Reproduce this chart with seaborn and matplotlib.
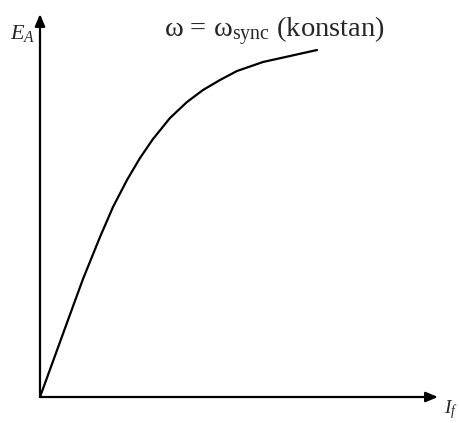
import matplotlib
matplotlib.use("Agg")
import matplotlib.pyplot as plt
import seaborn as sns
import pandas as pd

# Magnetization (open-circuit) characteristic: field current vs. induced EMF
field_current = [0, 28, 43, 60, 73, 87, 100, 113, 130, 147, 163, 180, 197, 223, 250, 277]
induced_emf = [0, 77, 118, 160, 190, 217, 239, 258, 279, 295, 307, 317, 326, 335, 341, 347]

x_label = "$I_f$"
y_label = "$E_A$"
curve_note = r"ω = ω$_{\rm sync}$ (konstan)"

sns.set_theme(style="white")
plt.rcParams["font.family"] = ["Liberation Serif", "DejaVu Serif"]
plt.rcParams["mathtext.fontset"] = "custom"
plt.rcParams["mathtext.rm"] = "Liberation Serif"
plt.rcParams["mathtext.it"] = "Liberation Serif:italic"

df = pd.DataFrame({"If": field_current, "EA": induced_emf})

fig = plt.figure(figsize=(4.6, 4.23), dpi=100)
ax = fig.add_axes([0, 0, 1, 1])
sns.lineplot(data=df, x="If", y="EA", ax=ax, color="black", linewidth=1.6,
             sort=False, estimator=None, solid_joinstyle="round")

ax.set_xlim(-40, 420)
ax.set_ylim(-26, 397)
ax.axis("off")

arrow = dict(arrowstyle="-|>,head_length=0.6,head_width=0.25", color="black",
             lw=1.6, shrinkA=0, shrinkB=0)
ax.annotate("", xy=(398, 0), xytext=(0, 0), arrowprops=arrow)
ax.annotate("", xy=(0, 383), xytext=(0, 0), arrowprops=arrow)

ax.text(-5, 364, y_label, ha="right", va="center", fontsize=16)
ax.text(404, -13, x_label, ha="left", va="center", fontsize=14)
ax.text(124, 366, curve_note, ha="left", va="center", fontsize=20.5)

fig.savefig("out.png", dpi=100, facecolor="white")
